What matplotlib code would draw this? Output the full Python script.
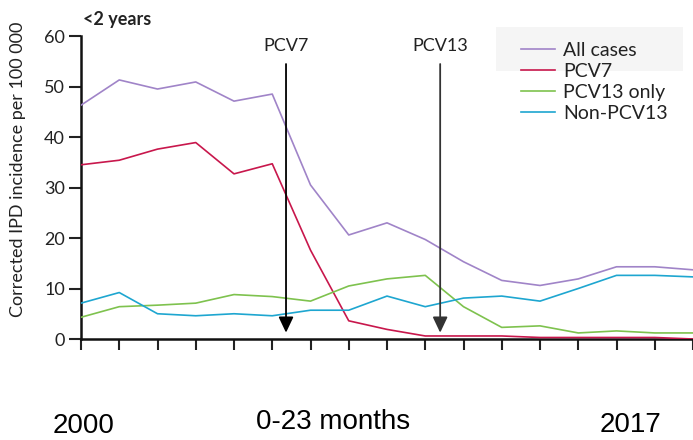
import numpy as np
import matplotlib
matplotlib.use("Agg")
import matplotlib.pyplot as plt
from matplotlib.patches import Rectangle

plt.rcParams['font.family'] = ['Lato', 'DejaVu Sans']

years = list(range(2000, 2017))
all_cases = [46.3, 51.3, 49.5, 50.9, 47.1, 48.5, 30.5, 20.6, 23.0, 19.7, 15.3, 11.6, 10.6, 11.9, 14.3, 14.3, 13.7]
pcv7 = [34.5, 35.4, 37.6, 38.9, 32.7, 34.7, 17.6, 3.6, 1.9, 0.6, 0.6, 0.6, 0.3, 0.3, 0.3, 0.3, 0.0]
pcv13_only = [4.3, 6.4, 6.7, 7.1, 8.8, 8.4, 7.5, 10.5, 11.9, 12.6, 6.4, 2.3, 2.6, 1.2, 1.6, 1.2, 1.2]
non_pcv13 = [7.1, 9.2, 5.0, 4.6, 5.0, 4.6, 5.7, 5.7, 8.5, 6.4, 8.1, 8.5, 7.5, 10.0, 12.6, 12.6, 12.3]

series = [("All cases", all_cases, "#a084c8"),
          ("PCV7", pcv7, "#c8174c"),
          ("PCV13 only", pcv13_only, "#7ec24e"),
          ("Non-PCV13", non_pcv13, "#1ea6d0")]

# vaccine introduction arrows (position in year index, label)
intro_x = [5.36, 9.39]
intro_lbl = ["PCV7", "PCV13"]
intro_col = ["black", "#333333"]

fig = plt.figure(figsize=(6.93, 4.40), dpi=100)
ax = fig.add_axes([81/693, 1-339/440, 1-81/693, (339-36)/440])

x = np.arange(len(years))
for name, vals, col in series:
    ax.plot(x, vals, color=col, lw=1.2, label=name, zorder=3)

for xi, lbl, col in zip(intro_x, intro_lbl, intro_col):
    ax.annotate("", xy=(xi, 0.7), xytext=(xi, 55.0),
                arrowprops=dict(arrowstyle="-|>,head_width=0.45,head_length=0.95",
                                color=col, lw=1.3), zorder=4)
    ax.text(xi, 56.5, lbl, ha="center", va="bottom", fontsize=13, color="#222222")

ax.set_xlim(0, 16)
ax.set_ylim(0, 60)
ax.set_xticks(x)
ax.set_xticklabels([])
ax.set_yticks([0, 10, 20, 30, 40, 50, 60])
ax.tick_params(axis="x", direction="out", length=8, width=1.5, color="#222222")
ax.tick_params(axis="y", direction="out", length=8.5, width=1.5, color="#222222",
               labelsize=13, labelcolor="#222222", pad=3)
for s in ["top", "right"]:
    ax.spines[s].set_visible(False)
for s in ["left", "bottom"]:
    ax.spines[s].set_linewidth(1.8)
    ax.spines[s].set_color("#111111")

ax.add_patch(Rectangle((496/693, 1-71/440), 187/693, 44/440, transform=fig.transFigure,
                       facecolor="#f5f5f5", edgecolor="none", clip_on=False, zorder=0))
leg = ax.legend(loc="upper left", bbox_to_anchor=(521/693, 1-42/440), bbox_transform=fig.transFigure,
                frameon=False, fontsize=14, handlelength=1.75, handletextpad=0.4,
                labelspacing=0.2, borderpad=0, borderaxespad=0)
for t in leg.get_texts():
    t.set_color("#222222")

fig.text(18/693, 1-169/440, "Corrected IPD incidence per 100 000", rotation=90,
         ha="center", va="center", fontsize=13, color="#222222")
fig.text(83/693, 1-25/440, "<2 years", fontsize=13, fontweight="bold", color="#222222")

fig.text(53/693, 1-433/440, "2000", fontsize=20, family="Liberation Sans", va="baseline")
fig.text(333/693, 1-429/440, "0-23 months", fontsize=20, family="Liberation Sans",
         va="baseline", ha="center")
fig.text(600/693, 1-432/440, "2017", fontsize=20, family="Liberation Sans", va="baseline")

fig.savefig("out.png", dpi=100)
